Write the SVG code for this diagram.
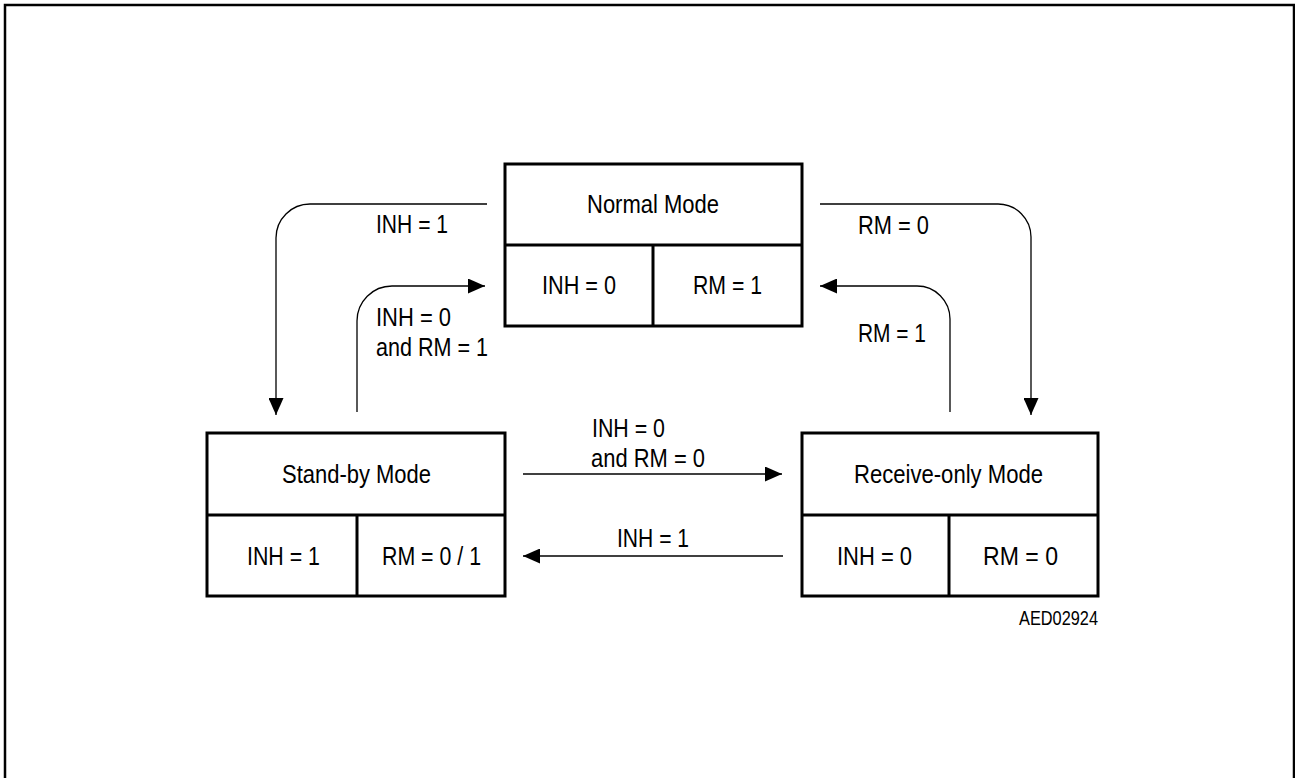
<svg xmlns="http://www.w3.org/2000/svg" width="1295" height="778" viewBox="0 0 1295 778">
<style>
.box{fill:#fff;stroke:#000;stroke-width:3}
.div{stroke:#000;stroke-width:3;fill:none}
.con{stroke:#000;stroke-width:1.3;fill:none;marker-end:url(#arr)}
text{font-family:"Liberation Sans",Arial,sans-serif;font-size:25px;fill:#000}
.small{font-size:20px}
</style>
<defs>
<marker id="arr" markerUnits="userSpaceOnUse" markerWidth="17" markerHeight="15" refX="17" refY="7.5" orient="auto" viewBox="0 0 17 15">
<path d="M0,0 L17,7.5 L0,15 z" fill="#000"/>
</marker>
</defs>
<rect x="5" y="5" width="1289" height="800" fill="#fff" stroke="#000" stroke-width="2.5"/>
<g id="connectors">
<path class="con" d="M487,204 H310 A34,34 0 0 0 276,238 V415"/>
<path class="con" d="M357,412 V321 A35,35 0 0 1 392,286 H485"/>
<path class="con" d="M820,204 H998 A33,33 0 0 1 1031,237 V415"/>
<path class="con" d="M950,412 V319 A33,33 0 0 0 917,286 H820"/>
<path class="con" d="M523,474 H782"/>
<path class="con" d="M783,556 H523"/>
<text x="376" y="233" textLength="72" lengthAdjust="spacingAndGlyphs">INH = 1</text>
<text x="376" y="326" textLength="75" lengthAdjust="spacingAndGlyphs">INH = 0</text>
<text x="376" y="356" textLength="112" lengthAdjust="spacingAndGlyphs">and RM = 1</text>
<text x="858" y="234" textLength="71" lengthAdjust="spacingAndGlyphs">RM = 0</text>
<text x="858" y="342" textLength="68" lengthAdjust="spacingAndGlyphs">RM = 1</text>
<text x="592" y="437" textLength="73" lengthAdjust="spacingAndGlyphs">INH = 0</text>
<text x="591" y="467" textLength="114" lengthAdjust="spacingAndGlyphs">and RM = 0</text>
<text x="617" y="547" textLength="72" lengthAdjust="spacingAndGlyphs">INH = 1</text>
</g>
<g id="normal">
<rect class="box" x="505" y="164" width="297" height="162"/>
<path class="div" d="M505,245 H802 M653,245 V326"/>
<text x="587" y="213" textLength="132" lengthAdjust="spacingAndGlyphs">Normal Mode</text>
<text x="542" y="294" textLength="74" lengthAdjust="spacingAndGlyphs">INH = 0</text>
<text x="693" y="294" textLength="69" lengthAdjust="spacingAndGlyphs">RM = 1</text>
</g>
<g id="standby">
<rect class="box" x="207" y="433" width="298" height="163"/>
<path class="div" d="M207,515 H505 M357,515 V596"/>
<text x="282" y="483" textLength="149" lengthAdjust="spacingAndGlyphs">Stand-by Mode</text>
<text x="247" y="565" textLength="73" lengthAdjust="spacingAndGlyphs">INH = 1</text>
<text x="382" y="565" textLength="99" lengthAdjust="spacingAndGlyphs">RM = 0 / 1</text>
</g>
<g id="receiveonly">
<rect class="box" x="802" y="433" width="296" height="163"/>
<path class="div" d="M802,515 H1098 M949,515 V596"/>
<text x="854" y="483" textLength="189" lengthAdjust="spacingAndGlyphs">Receive-only Mode</text>
<text x="837" y="565" textLength="75" lengthAdjust="spacingAndGlyphs">INH = 0</text>
<text x="983" y="565" textLength="75" lengthAdjust="spacingAndGlyphs">RM = 0</text>
</g>
<text class="small" x="1019" y="625" textLength="79" lengthAdjust="spacingAndGlyphs">AED02924</text>
</svg>
